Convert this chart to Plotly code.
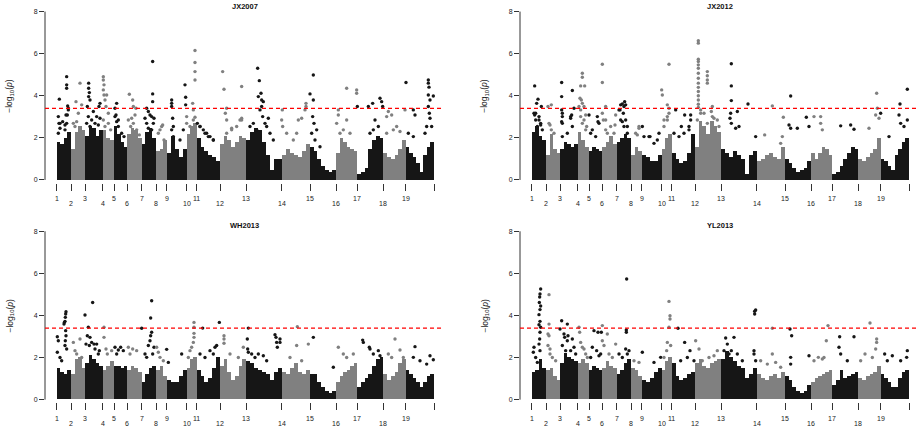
import plotly.graph_objects as go
from bisect import bisect_right

chrom_len = [43, 42, 53, 34, 39, 44, 43, 32, 60, 30, 70, 78, 107, 85, 78, 64, 78, 67, 85]
chrom_labels = [str(i) for i in range(1, 20)]
threshold = 3.4
y_ticks = [0, 2, 4, 6, 8]
panel_titles = ["JX2007", "JX2012", "WH2013", "YL2013"]

# Height of the dense lower part of each chromosome (segments left -> right)
core_jx2007 = [[1.8, 1.7, 2.0, 2.3], [1.5, 2.3, 2.6, 2.4], [2.1, 2.6, 2.5, 2.1, 2.4], [2.4, 2.0, 1.9],
               [2.6, 2.2, 1.8, 1.6], [2.2, 2.5, 2.4, 2.0], [1.7, 2.3, 2.5, 2.0], [1.4, 1.5, 1.9],
               [1.3, 2.1, 1.5, 1.1, 1.5], [2.2, 2.6, 2.7], [2.0, 1.6, 1.4, 1.2, 1.1, 0.9],
               [1.7, 2.1, 1.9, 1.6, 1.8, 2.1, 2.0], [1.9, 2.3, 2.5, 2.4, 1.8, 1.2, 0.5, 1.0, 1.0],
               [1.2, 1.5, 1.3, 1.2, 1.1, 1.4, 1.7], [1.6, 1.4, 1.0, 0.7, 0.5, 0.4, 0.5],
               [1.3, 2.0, 1.8, 1.6, 1.5, 1.4], [0.3, 0.4, 0.6, 1.5, 1.9, 2.1, 2.0],
               [1.3, 1.1, 1.0, 1.2, 1.5, 1.9], [1.6, 1.3, 1.1, 0.8, 0.4, 1.2, 1.6, 1.8]]
core_jx2012 = [[2.3, 2.6, 2.1, 1.9], [1.2, 2.2, 1.5, 1.3], [1.5, 1.8, 1.7, 1.6, 1.7], [2.3, 1.9, 1.6],
               [1.4, 1.6, 1.5, 1.4], [1.6, 1.8, 2.1, 1.7], [1.8, 2.0, 2.2, 2.0], [1.2, 1.6, 1.4],
               [1.2, 1.1, 0.9, 0.9, 1.2], [1.5, 2.0, 2.2], [1.3, 1.0, 0.8, 0.9, 1.3, 2.2],
               [1.6, 2.8, 2.6, 2.2, 2.8, 2.6, 2.3], [1.5, 1.3, 1.1, 1.4, 1.2, 1.0, 0.3, 1.2, 1.4],
               [0.9, 1.0, 1.2, 1.3, 1.1, 1.0, 1.6], [1.0, 0.8, 0.6, 0.4, 0.5, 0.6, 0.9],
               [1.3, 1.0, 1.3, 1.6, 1.5, 1.2], [0.3, 0.4, 0.7, 1.0, 1.3, 1.6, 1.5],
               [1.0, 0.9, 1.1, 1.3, 1.5, 2.0], [1.0, 0.9, 0.7, 0.5, 1.2, 1.5, 1.8, 2.0]]
core_wh2013 = [[1.5, 1.3, 1.2, 1.4], [1.2, 1.9, 2.0, 1.5], [1.7, 2.1, 1.9, 1.7, 1.6], [1.4, 1.6, 1.8],
               [1.6, 1.6, 1.5, 1.6], [1.4, 1.6, 1.5, 1.3], [0.8, 1.2, 1.5, 1.6], [1.4, 1.6, 1.1],
               [0.9, 0.8, 0.8, 1.1, 1.4], [1.5, 1.9, 2.0], [1.4, 1.1, 0.8, 1.0, 1.5, 2.0],
               [1.6, 1.9, 1.3, 0.9, 1.1, 1.6, 1.9], [1.8, 1.7, 1.5, 1.4, 1.3, 1.2, 0.9, 1.3, 1.5],
               [1.3, 1.2, 1.5, 1.7, 1.3, 1.2, 1.4], [1.2, 1.2, 0.8, 0.6, 0.4, 0.3, 0.4],
               [0.8, 1.1, 1.3, 1.4, 1.6, 1.7], [0.6, 0.8, 1.0, 1.2, 1.6, 1.9, 2.0],
               [1.2, 0.9, 1.1, 1.3, 1.7, 1.9], [1.4, 1.2, 1.0, 0.8, 0.6, 0.8, 1.1, 1.2]]
core_yl2013 = [[1.3, 1.4, 1.9, 1.5], [1.4, 1.5, 1.1, 0.9], [1.7, 2.2, 2.0, 1.9, 1.8], [1.7, 1.9, 1.7],
               [1.4, 1.6, 1.5, 1.4], [1.5, 1.8, 1.6, 1.5], [1.2, 1.4, 1.7, 1.9], [1.5, 1.4, 1.1],
               [0.9, 0.8, 1.0, 1.3, 1.5], [1.4, 1.8, 2.0], [1.7, 1.1, 0.9, 1.0, 1.2, 1.3],
               [1.7, 1.9, 1.6, 1.5, 1.7, 1.8, 1.9], [1.9, 2.3, 2.0, 1.8, 1.6, 1.5, 1.0, 1.2, 1.5],
               [1.2, 1.0, 0.9, 1.1, 1.2, 1.0, 1.3], [1.1, 0.9, 0.6, 0.4, 0.3, 0.4, 0.7],
               [0.8, 1.0, 1.1, 1.2, 1.3, 1.4], [0.7, 0.9, 1.4, 1.0, 1.1, 1.2, 1.3],
               [1.0, 0.9, 1.1, 1.2, 1.3, 1.6], [1.2, 1.0, 0.8, 0.6, 0.6, 1.0, 1.3, 1.4]]

# SNPs standing out above the dense part: genome position and -log10(p)
pos_jx2007 = [8, 5, 10, 30, 30, 30, 33, 35, 28, 25, 58, 70, 75, 65,
              96, 96, 98, 96, 100, 92, 110, 120, 127, 130, 140, 140, 142, 140, 142, 145, 150, 148, 155,
              175, 180, 178, 185, 218, 228, 230, 238, 235, 225, 270, 275, 280, 285, 288, 288, 288, 292,
              318, 310, 345, 345, 345, 348, 350, 385, 387, 387, 390, 408, 410, 415, 415, 415, 415, 415,
              422, 430, 450, 440, 460, 470, 498, 502, 510, 506, 510, 525, 555, 550, 555,
              603, 608, 605, 613, 615, 620, 615, 610, 618, 625, 635, 630, 677, 675, 678, 748, 748, 745,
              735, 725, 760, 770, 770, 768, 772, 780, 845, 845, 840, 870, 870, 900, 900, 902, 935, 948,
              955, 970, 975, 978, 995, 1005, 1020, 990, 1048, 1045, 1070, 1075, 1115, 1115, 1117, 1115,
              1120, 1115, 1118, 1120, 1130, 1125]
val_jx2007 = [3.84, 3.01, 2.69, 4.91, 4.52, 4.36, 3.52, 3.41, 3.09, 2.61, 3.72, 4.60, 3.57, 3.17,
              4.60, 4.36, 4.15, 3.96, 3.80, 3.49, 3.25, 3.01, 3.49, 3.64, 4.91, 4.75, 4.52, 4.28, 4.04, 3.80,
              4.04, 3.49, 3.17, 3.41, 3.64, 3.09, 2.85, 4.07, 3.80, 3.49, 3.41, 3.09, 2.93, 3.41, 3.25,
              3.09, 3.01, 5.63, 4.09, 3.72, 2.93, 2.61, 2.38, 3.80, 3.64, 3.49, 2.93, 2.54, 4.52, 3.93,
              3.57, 3.01, 3.64, 3.33, 2.98, 6.15, 5.58, 5.15, 4.75, 2.69, 2.54, 2.22, 2.38, 2.06, 1.90,
              5.15, 4.31, 3.41, 3.17, 2.85, 2.46, 4.44, 2.85, 2.93, 5.31, 4.72, 3.96, 4.12, 3.80, 3.72,
              3.49, 3.33, 3.01, 2.69, 2.93, 2.54, 3.33, 2.85, 2.54, 3.64, 3.49, 3.33, 2.93, 2.85, 4.09,
              4.99, 3.80, 3.01, 2.69, 2.38, 3.33, 3.09, 2.69, 4.36, 2.85, 4.28, 4.12, 3.49, 3.49, 3.64,
              2.85, 3.88, 3.72, 3.49, 3.25, 3.09, 2.54, 3.01, 4.63, 3.33, 3.33, 3.09, 4.75, 4.60, 4.41,
              4.04, 3.80, 3.49, 3.17, 2.93, 3.99, 2.54]
# lower SNPs just above the dense part
low_pos_jx2007 = [7, 10, 5, 18, 25, 30, 35, 32, 50, 55, 60, 70, 78, 90, 95, 100, 105, 110, 115, 125,
                  130, 140, 145, 155, 162, 175, 180, 185, 195, 202, 215, 222, 230, 240, 248, 265, 270,
                  275, 285, 290, 305, 315, 322, 345, 350, 370, 380, 390, 400, 410, 430, 445, 455, 470,
                  510, 525, 540, 555, 580, 590, 600, 640, 650, 690, 710, 720, 765, 775, 790, 850, 860,
                  880, 940, 950, 965, 990, 1010, 1030, 1055, 1070, 1105, 1110]
low_val_jx2007 = [2.69, 2.46, 2.22, 2.77, 2.38, 2.69, 3.33, 3.09, 2.69, 2.54, 2.77, 2.38, 2.22, 2.69,
                  3.01, 2.54, 2.85, 2.38, 2.69, 2.61, 2.93, 2.85, 2.54, 2.69, 2.38, 3.01, 2.77, 2.54,
                  2.22, 2.06, 2.85, 2.54, 2.69, 2.38, 2.14, 2.93, 2.69, 2.46, 2.38, 2.69, 2.22, 2.54,
                  1.90, 2.38, 2.06, 1.90, 2.38, 2.69, 2.54, 2.85, 2.54, 2.22, 2.06, 1.90, 2.22, 2.38,
                  2.54, 2.85, 2.54, 2.69, 2.38, 2.22, 1.90, 2.22, 1.90, 2.22, 2.22, 1.90, 1.58, 2.22,
                  2.38, 2.22, 2.22, 2.38, 2.54, 2.22, 2.38, 2.30, 2.22, 2.06, 2.22, 2.54]

pos_jx2012 = [9, 19, 15, 12, 9, 29, 22, 27, 49, 59, 55, 90, 90, 90, 92, 90, 92, 122, 120, 117, 127,
              152, 152, 159, 147, 145, 149, 152, 157, 147, 162, 157, 165, 172, 177, 197, 199, 212, 212,
              212, 215, 222, 222, 227, 252, 250, 265, 267, 272, 277, 279, 282, 275, 272, 282, 287,
              322, 317, 332, 355, 382, 390, 392, 407, 412, 412, 407, 397, 412, 432, 459, 477, 449, 472,
              500, 500, 500, 500, 500, 500, 500, 500, 500, 500, 500, 500, 500, 500, 500,
              527, 527, 527, 527, 542, 539, 547, 557, 562, 517, 507,
              599, 599, 599, 597, 595, 599, 617, 612, 622, 649, 672, 699, 722, 752, 747,
              777, 755, 772, 777, 797, 824, 832, 847, 867, 867, 872, 927, 957, 967,
              1035, 1037, 1032, 1042, 1047, 1012, 1105, 1102, 1107, 1127, 1127, 1117, 1072]
val_jx2012 = [4.47, 3.84, 3.64, 3.17, 3.09, 3.49, 2.85, 2.61, 3.49, 3.57, 2.61, 4.63, 3.96, 3.33,
              3.01, 2.77, 2.06, 4.25, 3.09, 2.93, 3.41, 5.07, 4.88, 4.47, 4.47, 3.88, 3.80, 3.64, 3.49,
              3.33, 3.09, 2.85, 2.54, 3.09, 2.22, 3.01, 2.77, 5.50, 4.63, 3.17, 2.85, 3.49, 2.38, 2.22,
              3.09, 2.61, 3.33, 3.57, 3.61, 3.49, 3.72, 3.57, 3.17, 2.77, 2.85, 2.54, 2.46, 2.14, 2.54,
              2.06, 2.22, 4.28, 4.04, 3.57, 3.41, 3.17, 3.01, 2.85, 5.50, 3.33, 3.09, 3.09, 2.54, 2.38,
              6.62, 6.50, 5.74, 5.63, 5.47, 5.31, 5.07, 4.83, 4.60, 4.40, 4.20, 4.00, 3.80, 3.60, 3.45,
              5.15, 4.95, 4.75, 4.60, 3.49, 3.25, 2.93, 2.85, 2.54, 3.17, 3.33,
              5.52, 4.47, 3.77, 3.17, 2.93, 2.69, 3.25, 2.46, 2.54, 3.61, 2.06, 2.14, 3.52, 2.06, 1.74,
              3.99, 2.98, 2.61, 2.46, 2.46, 2.98, 2.54, 3.01, 3.01, 2.69, 2.38, 2.57, 2.61, 2.41,
              4.12, 3.41, 3.09, 2.93, 3.17, 2.46, 3.61, 3.09, 2.69, 4.31, 2.85, 2.54, 2.06]
low_pos_jx2012 = [7, 12, 17, 22, 27, 32, 52, 59, 67, 92, 92, 117, 122, 107, 142, 147, 152, 162, 182,
                  192, 202, 222, 237, 247, 262, 267, 277, 287, 312, 322, 337, 352, 367, 377, 397, 407,
                  427, 442, 457, 472, 477, 497, 507, 527, 542]
low_val_jx2012 = [3.17, 2.85, 2.54, 3.01, 2.69, 2.38, 2.69, 2.38, 2.22, 3.17, 2.69, 3.01, 2.54, 2.22,
                  3.49, 3.01, 2.69, 2.38, 2.38, 2.06, 2.69, 2.85, 2.54, 2.22, 3.33, 2.85, 2.54, 2.22,
                  2.22, 2.54, 2.06, 2.06, 1.74, 1.90, 2.54, 2.85, 2.22, 2.06, 2.22, 2.54, 2.85, 2.85,
                  3.17, 2.69, 3.01]

pos_wh2013 = [2, 5, 2, 28, 27, 26, 25, 23, 22, 27, 28, 26, 25, 30, 50, 55, 70,
              85, 108, 95, 92, 100, 105, 112, 120, 128, 142, 142, 148, 175, 185, 200, 215, 228, 255,
              285, 282, 285, 282, 280, 275, 288, 270, 300, 310, 330, 335, 375,
              412, 412, 412, 412, 410, 405, 400, 438, 430, 460, 480, 475, 488, 502, 502, 502, 560,
              575, 572, 573, 575, 605, 620, 655, 658, 660, 662, 670, 670, 722, 720, 755, 770,
              845, 860, 830, 918, 920, 938, 940, 965, 1015, 1030, 995, 1075, 1070, 1120, 1130]
val_wh2013 = [2.99, 2.80, 2.25, 4.18, 4.07, 3.91, 3.72, 3.67, 3.59, 3.28, 3.04, 2.80, 2.57, 2.41, 2.72,
              2.33, 2.88, 4.02, 4.62, 3.44, 3.04, 2.96, 2.72, 2.64, 2.64, 2.33, 3.44, 2.96, 2.41, 2.49,
              2.36, 2.33, 2.49, 2.41, 3.39, 4.70, 3.88, 3.20, 3.04, 2.80, 2.57, 2.17, 2.01, 2.49, 2.01,
              2.39, 1.77, 2.17, 3.67, 3.44, 3.15, 2.96, 2.72, 2.49, 2.33, 3.40, 2.17, 2.33, 2.57, 2.49,
              3.67, 3.04, 2.88, 2.68, 2.49, 3.40, 2.88, 2.41, 2.25, 2.17, 2.09, 3.09, 2.96, 2.72, 2.49,
              2.88, 2.72, 3.47, 2.57, 2.64, 2.96, 2.49, 2.17, 1.54, 2.83, 2.72, 2.49, 2.41, 2.33, 2.88,
              2.36, 2.17, 2.52, 2.01, 2.09, 1.90]
low_pos_wh2013 = [10, 15, 60, 75, 88, 98, 115, 125, 152, 165, 180, 192, 220, 240, 265, 292, 305, 320,
                  395, 445, 470, 520, 545, 585, 595, 630, 700, 735, 870, 890, 950, 970, 1005, 1040,
                  1090, 1110]
low_val_wh2013 = [2.00, 1.85, 2.17, 2.00, 2.64, 2.57, 2.41, 2.17, 2.17, 2.33, 2.17, 2.49, 2.17, 2.33,
                  2.17, 2.49, 2.25, 1.85, 2.00, 2.00, 2.17, 2.17, 2.00, 2.17, 2.00, 1.85, 2.00, 1.85,
                  2.00, 2.17, 2.17, 2.09, 2.00, 2.00, 1.85, 1.69]

pos_yl2013 = [27, 25, 24, 23, 27, 25, 22, 25, 22, 27, 25, 24, 22, 25, 7, 5,
              52, 52, 49, 52, 49, 55, 55, 90, 85, 107, 97, 99, 109, 107, 122, 127,
              142, 144, 147, 152, 157, 187, 199, 182, 195, 202, 212, 209, 227, 212, 217,
              252, 285, 284, 284, 282, 292, 332, 367, 387, 412, 415, 415, 412, 407, 417, 405,
              439, 459, 475, 487, 492, 502, 557, 582, 607, 587, 599, 669, 669, 672, 667, 667, 672,
              722, 722, 732, 747, 775, 780, 777, 777, 832, 860, 872, 884, 889, 924, 922, 967,
              1015, 1035, 1035, 1032, 1000, 1059, 1082, 1127, 1125]
val_yl2013 = [5.26, 5.02, 4.88, 4.62, 4.45, 4.28, 4.04, 3.72, 3.56, 3.44, 3.20, 2.88, 2.64, 2.33, 2.49,
              2.25, 4.99, 3.59, 3.12, 3.04, 2.57, 2.41, 2.17, 3.75, 3.36, 3.59, 3.12, 2.96, 3.04, 2.80,
              2.88, 2.49, 3.44, 3.20, 2.72, 2.49, 2.41, 3.28, 3.20, 2.49, 2.33, 2.09, 3.52, 3.20, 3.12,
              2.80, 2.57, 2.64, 5.73, 3.31, 3.20, 2.41, 2.33, 2.25, 1.77, 2.01, 4.67, 3.99, 3.83, 3.44,
              2.72, 2.57, 2.33, 3.39, 2.72, 2.33, 1.85, 2.80, 2.41, 2.33, 2.93, 2.96, 2.64, 2.33, 4.20,
              4.07, 4.26, 2.33, 2.17, 1.85, 3.39, 2.17, 1.77, 1.54, 3.36, 3.04, 2.01, 1.69, 2.09, 2.01,
              1.93, 2.80, 3.52, 2.99, 2.49, 2.99, 3.64, 2.88, 2.72, 2.41, 2.17, 2.17, 2.09, 2.33, 2.01]
low_pos_yl2013 = [12, 17, 62, 72, 92, 102, 117, 132, 162, 167, 177, 207, 232, 242, 262, 272, 287, 307,
                  322, 397, 447, 467, 512, 532, 547, 577, 592, 617, 632, 687, 707, 847, 877, 927, 947,
                  987, 1022, 1067, 1107]
low_val_yl2013 = [2.00, 1.77, 2.00, 1.85, 2.57, 2.33, 2.33, 2.17, 2.17, 2.00, 2.00, 2.17, 2.17, 2.00,
                  2.17, 2.00, 2.17, 1.85, 1.77, 2.00, 1.85, 2.00, 1.85, 2.00, 2.09, 2.33, 2.17, 2.17,
                  1.85, 1.85, 1.69, 1.85, 2.00, 2.17, 1.85, 1.85, 2.00, 1.85, 1.85]

panel_core = [core_jx2007, core_jx2012, core_wh2013, core_yl2013]
panel_pos = [pos_jx2007 + low_pos_jx2007, pos_jx2012 + low_pos_jx2012,
             pos_wh2013 + low_pos_wh2013, pos_yl2013 + low_pos_yl2013]
panel_val = [val_jx2007 + low_val_jx2007, val_jx2012 + low_val_jx2012,
             val_wh2013 + low_val_wh2013, val_yl2013 + low_val_yl2013]

colors = ["#161616", "#808080"]
font_family = "Liberation Sans, Arial, sans-serif"

chrom_start = [0]
for length in chrom_len:
    chrom_start.append(chrom_start[-1] + length)

W, H = 921, 429
# plot areas in pixels: (left, right, top, bottom)
boxes = [(45, 444, 5.7, 182.7), (520, 919, 5.7, 182.7),
         (45, 444, 225.4, 402.4), (520, 919, 225.4, 402.4)]
x_range = [-35, 1162]
y_range = [-0.13, 8.28]

fig = go.Figure()
annotations = []
shapes = []

for p in range(4):
    ax = "" if p == 0 else str(p + 1)
    xref, yref = "x" + ax, "y" + ax

    # dense part of every chromosome as adjacent bars
    for c in range(2):
        bx, by, bw = [], [], []
        for i in range(c, len(chrom_len), 2):
            heights = panel_core[p][i]
            seg = chrom_len[i] / len(heights)
            for k, h in enumerate(heights):
                bx.append(chrom_start[i] + (k + 0.5) * seg)
                by.append(h)
                bw.append(seg)
        fig.add_trace(go.Bar(x=bx, y=by, width=bw, marker=dict(color=colors[c], line_width=0),
                             xaxis=xref, yaxis=yref, showlegend=False, hoverinfo="skip"))

    # individual SNPs
    for c in range(2):
        sx, sy = [], []
        for x, v in zip(panel_pos[p], panel_val[p]):
            chrom = min(bisect_right(chrom_start, x) - 1, len(chrom_len) - 1)
            if chrom % 2 == c:
                sx.append(x)
                sy.append(v)
        fig.add_trace(go.Scatter(x=sx, y=sy, mode="markers",
                                 marker=dict(color=colors[c], size=3.4, line_width=0),
                                 xaxis=xref, yaxis=yref, showlegend=False, cliponaxis=False))

    left, right, top, bottom = boxes[p]
    fig.layout["xaxis" + ax] = dict(
        domain=[left / W, right / W], range=x_range, anchor=yref,
        showgrid=False, zeroline=False, showline=False, showticklabels=False,
        tickmode="array", tickvals=chrom_start,
        ticks="outside", ticklen=7, tickwidth=1, tickcolor="#333333")
    fig.layout["yaxis" + ax] = dict(
        domain=[1 - bottom / H, 1 - top / H], range=y_range, anchor=xref,
        showgrid=False, zeroline=False, showline=False,
        tickmode="array", tickvals=y_ticks, ticks="outside", ticklen=5, tickwidth=1,
        tickcolor="#333333", tickfont=dict(size=7, color="#222222", family=font_family))

    # y axis line only between 0 and 8
    shapes.append(dict(type="line", xref=xref + " domain", yref=yref, x0=0, x1=0, y0=0, y1=8,
                       line=dict(color="#333333", width=1)))
    # significance threshold
    shapes.append(dict(type="line", xref=xref + " domain", yref=yref, x0=0, x1=1,
                       y0=threshold, y1=threshold,
                       line=dict(color="#ff0000", width=1.2, dash="4px,3px")))

    # staggered chromosome labels
    for i, lab in enumerate(chrom_labels):
        annotations.append(dict(x=chrom_start[i], y=0, xref=xref, yref=yref + " domain",
                                text=lab, showarrow=False, yanchor="middle",
                                yshift=-15.6 if i % 2 == 0 else -20.8,
                                font=dict(size=7, color="#222222", family=font_family)))
    # title
    annotations.append(dict(x=0.5, y=1, xref=xref + " domain", yref=yref + " domain",
                            text="<b>" + panel_titles[p] + "</b>", showarrow=False,
                            yanchor="middle", yshift=-0.5,
                            font=dict(size=7.5, color="#111111", family=font_family)))
    # y axis title
    annotations.append(dict(x=(left - 35) / W, y=4, xref="paper", yref=yref, xanchor="center",
                            text="\u2212log<sub>10</sub>(<i>p</i>)", showarrow=False, textangle=-90,
                            font=dict(size=8.5, color="#222222", family=font_family)))

fig.update_layout(width=W, height=H, margin=dict(l=0, r=0, t=0, b=0), autosize=False,
                  plot_bgcolor="white", paper_bgcolor="white", barmode="overlay", bargap=0,
                  annotations=annotations, shapes=shapes,
                  font=dict(family=font_family))

# the page body has a default margin; remove it so the figure fills the window
fig.write_html("out.html", config={"displayModeBar": False},
               post_script="document.body.style.margin = '0px';")
